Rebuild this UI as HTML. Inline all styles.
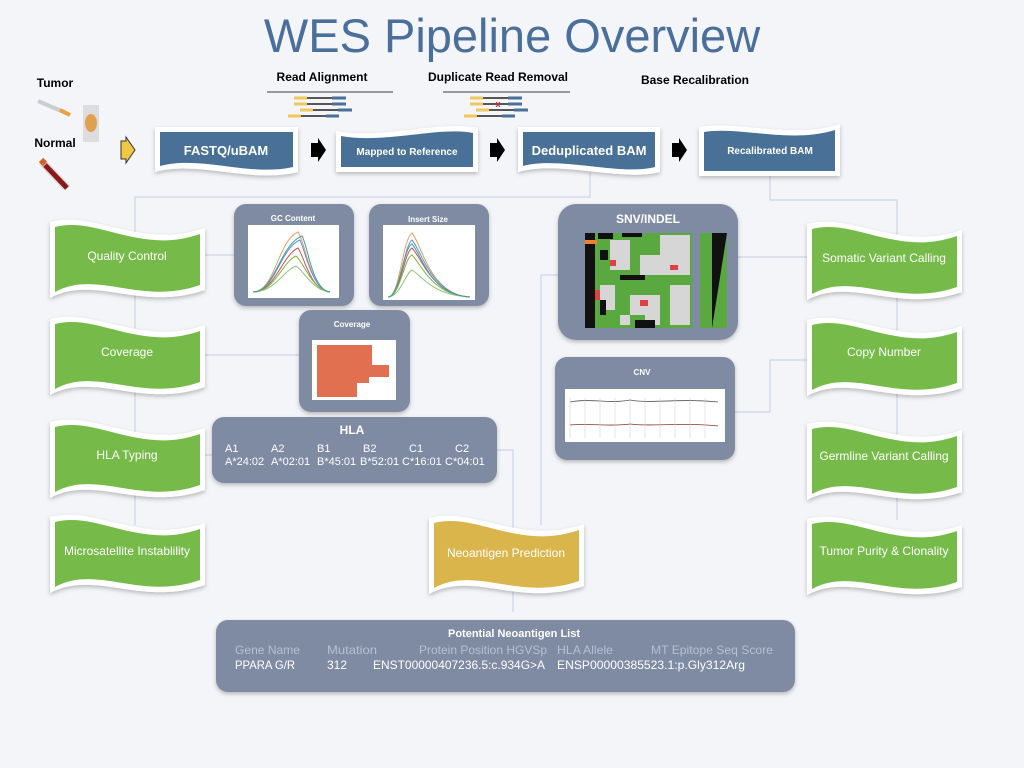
<!DOCTYPE html>
<html><head><meta charset="utf-8"><style>
html,body{margin:0;padding:0;background:#f4f5f9;}
svg{display:block;font-family:"Liberation Sans",sans-serif;}
</style></head><body>
<svg width="1024" height="768" viewBox="0 0 1024 768" xmlns="http://www.w3.org/2000/svg">
<defs>
<filter id="sh" x="-10%" y="-10%" width="120%" height="130%"><feDropShadow dx="0" dy="2" stdDeviation="2" flood-color="#000" flood-opacity="0.25"/></filter>
<path id="flag" d="M0,4 C45,-8 90,32 155,10 L155,72 C90,94 45,56 0,80 Z"/>
<path id="flagi" d="M5,9 C47,-2 90,37 150,16 L150,67 C90,88 47,51 5,74 Z"/>
</defs>
<rect width="1024" height="768" fill="#f4f5f9"/>
<text x="512" y="52" text-anchor="middle" font-size="47" fill="#4a6f9a">WES Pipeline Overview</text>

<g stroke="#c5cde6" stroke-width="1" fill="none">
<path d="M590,172 V197 H135 V525"/>
<path d="M770,176 V200 H897 V520"/>
<path d="M205,255 H234"/>
<path d="M205,355 H299"/>
<path d="M205,455 H212"/>
<path d="M497,450 H513 V612"/>
<path d="M558,275 H541 V525"/>
<path d="M738,257 H807"/>
<path d="M735,412 H770 V360 H807"/>
</g>

<text x="55" y="87" text-anchor="middle" font-size="12" font-weight="bold">Tumor</text>
<text x="55" y="147" text-anchor="middle" font-size="12" font-weight="bold">Normal</text>
<line x1="38" y1="101" x2="66" y2="113" stroke="#ccc" stroke-width="4"/>
<line x1="60" y1="110" x2="70" y2="115" stroke="#e8a040" stroke-width="4"/>
<rect x="83" y="105" width="16" height="37" fill="#ddd"/>
<ellipse cx="91" cy="123" rx="6" ry="9" fill="#e0a050"/>
<line x1="42" y1="162" x2="67" y2="188" stroke="#ddd" stroke-width="8"/>
<line x1="45" y1="165" x2="67" y2="188" stroke="#8a1a1a" stroke-width="5"/>
<line x1="41" y1="160" x2="45" y2="164" stroke="#d06030" stroke-width="6"/>
<path d="M121,141 H126 V137 L135,150 L126,163 V159 H121 Z" fill="#f2c744" stroke="#333" stroke-width="1"/>

<line x1="267" y1="92" x2="393" y2="92" stroke="#999" stroke-width="2"/>
<line x1="443" y1="92" x2="570" y2="92" stroke="#999" stroke-width="2"/>
<g stroke-width="3">
<line x1="294" y1="98" x2="346" y2="98" stroke="#222" stroke-width="1.5"/><line x1="294" y1="98" x2="307" y2="98" stroke="#f2c75c"/><line x1="332" y1="98" x2="346" y2="98" stroke="#4a6f9a"/>
<line x1="294" y1="104" x2="346" y2="104" stroke="#222" stroke-width="1.5"/><line x1="294" y1="104" x2="307" y2="104" stroke="#f2c75c"/><line x1="332" y1="104" x2="346" y2="104" stroke="#4a6f9a"/>
<line x1="300" y1="110" x2="352" y2="110" stroke="#222" stroke-width="1.5"/><line x1="300" y1="110" x2="313" y2="110" stroke="#f2c75c"/><line x1="338" y1="110" x2="352" y2="110" stroke="#4a6f9a"/>
<line x1="288" y1="116" x2="339" y2="116" stroke="#222" stroke-width="1.5"/><line x1="288" y1="116" x2="301" y2="116" stroke="#f2c75c"/><line x1="326" y1="116" x2="339" y2="116" stroke="#4a6f9a"/>
<line x1="470" y1="98" x2="522" y2="98" stroke="#222" stroke-width="1.5"/><line x1="470" y1="98" x2="483" y2="98" stroke="#f2c75c"/><line x1="508" y1="98" x2="522" y2="98" stroke="#4a6f9a"/>
<line x1="470" y1="104" x2="522" y2="104" stroke="#222" stroke-width="1.5"/><line x1="470" y1="104" x2="483" y2="104" stroke="#f2c75c"/><line x1="508" y1="104" x2="522" y2="104" stroke="#4a6f9a"/>
<line x1="476" y1="110" x2="528" y2="110" stroke="#222" stroke-width="1.5"/><line x1="476" y1="110" x2="489" y2="110" stroke="#f2c75c"/><line x1="514" y1="110" x2="528" y2="110" stroke="#4a6f9a"/>
<line x1="464" y1="116" x2="515" y2="116" stroke="#222" stroke-width="1.5"/><line x1="464" y1="116" x2="477" y2="116" stroke="#f2c75c"/><line x1="502" y1="116" x2="515" y2="116" stroke="#4a6f9a"/>
</g>
<text x="498" y="107" text-anchor="middle" font-size="9" fill="#d03030" font-weight="bold">x</text>
<g font-size="12" font-weight="bold" text-anchor="middle">
<text x="322" y="81">Read Alignment</text>
<text x="498" y="81">Duplicate Read Removal</text>
<text x="695" y="84">Base Recalibration</text>
</g>

<g filter="url(#sh)">
<path d="M155,127 H298 V172 C250,184 200,160 155,172 Z" fill="#fff"/>
<path d="M160,132 H293 V167 C250,177 200,155 160,166 Z" fill="#4a6f96"/>
<path d="M336,131 C380,140 440,120 478,128 V172 H336 Z" fill="#fff"/>
<path d="M341,136 C385,144 440,126 473,133 V167 H341 Z" fill="#4a6f96"/>
<path d="M518,127 H660 V172 C620,182 560,160 518,172 Z" fill="#fff"/>
<path d="M523,132 H655 V167 C620,176 560,156 523,166 Z" fill="#4a6f96"/>
<path d="M699,127 C740,120 790,140 840,124 V176 H699 Z" fill="#fff"/>
<path d="M704,132 C740,126 790,144 835,130 V171 H704 Z" fill="#4a6f96"/>
</g>
<g fill="#fff" font-weight="bold" text-anchor="middle">
<text x="226" y="155" font-size="13">FASTQ/uBAM</text>
<text x="407" y="155" font-size="10">Mapped to Reference</text>
<text x="589" y="155" font-size="13">Deduplicated BAM</text>
<text x="770" y="154" font-size="10">Recalibrated BAM</text>
</g>
<g fill="#000">
<path d="M311,143 H318 V138 L326,150 L318,162 V157 H311 Z"/>
<path d="M490,143 H497 V138 L505,150 L497,162 V157 H490 Z"/>
<path d="M672,143 H679 V138 L687,150 L679,162 V157 H672 Z"/>
</g>

<g filter="url(#sh)">
<g transform="translate(50,218)"><use href="#flag" fill="#fff"/><use href="#flagi" fill="#76bb4a"/></g>
<g transform="translate(50,315)"><use href="#flag" fill="#fff"/><use href="#flagi" fill="#76bb4a"/></g>
<g transform="translate(50,418)"><use href="#flag" fill="#fff"/><use href="#flagi" fill="#76bb4a"/></g>
<g transform="translate(50,513)"><use href="#flag" fill="#fff"/><use href="#flagi" fill="#76bb4a"/></g>
<g transform="translate(807,220)"><use href="#flag" fill="#fff"/><use href="#flagi" fill="#76bb4a"/></g>
<g transform="translate(807,316)"><use href="#flag" fill="#fff"/><use href="#flagi" fill="#76bb4a"/></g>
<g transform="translate(807,420)"><use href="#flag" fill="#fff"/><use href="#flagi" fill="#76bb4a"/></g>
<g transform="translate(807,515)"><use href="#flag" fill="#fff"/><use href="#flagi" fill="#76bb4a"/></g>
<g transform="translate(429,514)"><use href="#flag" fill="#fff"/><use href="#flagi" fill="#dab54b"/></g>
</g>
<g fill="#fff" font-size="12" text-anchor="middle">
<text x="127" y="260">Quality Control</text>
<text x="127" y="356">Coverage</text>
<text x="127" y="459">HLA Typing</text>
<text x="127" y="555">Microsatellite Instablility</text>
<text x="884" y="262">Somatic Variant Calling</text>
<text x="884" y="356">Copy Number</text>
<text x="884" y="460">Germline Variant Calling</text>
<text x="884" y="555">Tumor Purity &amp; Clonality</text>
<text x="506" y="557">Neoantigen Prediction</text>
</g>

<g fill="#7f8aa3" filter="url(#sh)">
<rect x="234" y="204" width="120" height="102" rx="12"/>
<rect x="369" y="204" width="120" height="102" rx="12"/>
<rect x="299" y="310" width="111" height="102" rx="12"/>
<rect x="212" y="417" width="285" height="66" rx="12"/>
<rect x="558" y="204" width="180" height="136" rx="18"/>
<rect x="555" y="357" width="180" height="103" rx="12"/>
<rect x="216" y="620" width="579" height="72" rx="12"/>
</g>
<g fill="#fff" font-weight="bold" text-anchor="middle">
<text x="293" y="221" font-size="8">GC Content</text>
<text x="428" y="222" font-size="8">Insert Size</text>
<text x="352" y="327" font-size="8">Coverage</text>
<text x="352" y="434" font-size="12">HLA</text>
<text x="648" y="223" font-size="12">SNV/INDEL</text>
<text x="642" y="375" font-size="8">CNV</text>
<text x="514" y="637" font-size="11">Potential Neoantigen List</text>
</g>
<rect x="248" y="225" width="91" height="73" fill="#fff"/>
<rect x="383" y="225" width="92" height="75" fill="#fff"/>
<rect x="312" y="340" width="84" height="60" fill="#fff"/>
<rect x="565" y="389" width="160" height="53" fill="#fff"/>
<g fill="none" stroke-width="1">
<path d="M253,292 C275,292 278,240 298,232 C305,240 310,290 330,292" stroke="#e4a060"/>
<path d="M253,292 C275,292 280,248 300,240 C305,250 312,290 330,292" stroke="#5a8fd8"/>
<path d="M253,292 C275,292 282,255 298,248 C305,258 310,290 330,292" stroke="#d05050"/>
<path d="M253,292 C275,292 282,262 296,256 C305,264 312,290 330,292" stroke="#80b040"/>
<path d="M253,292 C275,292 284,270 296,266 C305,272 312,290 330,292" stroke="#90c080"/>
<path d="M253,292 C275,292 280,244 302,236 C308,246 312,290 330,292" stroke="#40a0a0"/>
<path d="M388,297 C400,297 402,240 412,233 C422,245 430,295 470,297" stroke="#e4a060"/>
<path d="M388,297 C400,297 404,245 412,240 C422,252 432,295 470,297" stroke="#5a8fd8"/>
<path d="M388,297 C400,297 404,252 412,248 C422,258 432,295 470,297" stroke="#d05050"/>
<path d="M388,297 C400,297 404,258 412,255 C422,265 432,295 470,297" stroke="#80b040"/>
<path d="M388,297 C400,297 406,272 412,270 C422,276 432,295 470,297" stroke="#90c080"/>
<path d="M388,297 C400,297 403,248 412,244 C422,255 430,295 470,297" stroke="#40a0a0"/>
</g>
<g fill="#e07050">
<rect x="317" y="345" width="55" height="20"/>
<rect x="317" y="365" width="72" height="12"/>
<rect x="317" y="377" width="52" height="6"/>
<rect x="317" y="383" width="40" height="14"/>
</g>
<g stroke="#555" stroke-width="0.8" fill="none">
<path d="M570,402 C590,398 610,404 630,400 C650,404 680,398 718,402"/>
<path d="M570,425 C590,423 610,427 630,424 C650,427 680,422 718,426" stroke="#833"/>
<path d="M570,398 V438 M585,398 V438 M600,398 V438 M615,398 V438 M630,398 V438 M645,398 V438 M660,398 V438 M675,398 V438 M690,398 V438 M705,398 V438" stroke="#ccc" stroke-width="0.5"/>
</g>
<rect x="585" y="233" width="107" height="95" fill="#5aa840"/>
<g fill="#d6d6d6">
<rect x="610" y="240" width="20" height="30"/><rect x="640" y="255" width="25" height="20"/><rect x="660" y="235" width="30" height="40"/>
<rect x="600" y="285" width="15" height="25"/><rect x="630" y="295" width="30" height="20"/><rect x="670" y="285" width="20" height="40"/>
<rect x="645" y="310" width="15" height="15"/><rect x="620" y="315" width="10" height="10"/>
</g>
<g fill="#111">
<rect x="585" y="233" width="10" height="95"/><rect x="598" y="233" width="15" height="6"/><rect x="622" y="233" width="20" height="4"/>
<rect x="600" y="250" width="8" height="10"/><rect x="620" y="275" width="25" height="5"/><rect x="600" y="300" width="6" height="15"/><rect x="635" y="320" width="20" height="8"/>
</g>
<g fill="#e04040"><rect x="610" y="260" width="6" height="6"/><rect x="640" y="300" width="8" height="6"/><rect x="670" y="265" width="8" height="5"/><rect x="595" y="290" width="5" height="10"/></g>
<rect x="585" y="240" width="12" height="4" fill="#f08030"/>
<rect x="700" y="233" width="27" height="95" fill="#5aa840"/>
<path d="M712,233 H727 L712,328 Z" fill="#111"/>
<g fill="#fff" font-size="11">
<text x="225" y="452">A1</text><text x="271" y="452">A2</text><text x="317" y="452">B1</text><text x="363" y="452">B2</text><text x="409" y="452">C1</text><text x="455" y="452">C2</text>
<text x="225" y="465">A*24:02</text><text x="271" y="465">A*02:01</text><text x="317" y="465">B*45:01</text><text x="360" y="465">B*52:01</text><text x="402" y="465">C*16:01</text><text x="445" y="465">C*04:01</text>
</g>
<g font-size="12">
<g fill="#b8c0d2">
<text x="235" y="654" textLength="65" lengthAdjust="spacingAndGlyphs">Gene Name</text>
<text x="327" y="654" textLength="50" lengthAdjust="spacingAndGlyphs">Mutation</text>
<text x="419" y="654" textLength="128" lengthAdjust="spacingAndGlyphs">Protein Position HGVSp</text>
<text x="557" y="654" textLength="56" lengthAdjust="spacingAndGlyphs">HLA Allele</text>
<text x="651" y="654" textLength="122" lengthAdjust="spacingAndGlyphs">MT Epitope Seq Score</text>
</g>
<g fill="#fff">
<text x="235" y="669" textLength="60" lengthAdjust="spacingAndGlyphs">PPARA  G/R</text>
<text x="327" y="669" textLength="20" lengthAdjust="spacingAndGlyphs">312</text>
<text x="373" y="669" textLength="172" lengthAdjust="spacingAndGlyphs">ENST00000407236.5:c.934G&gt;A</text>
<text x="557" y="669" textLength="188" lengthAdjust="spacingAndGlyphs">ENSP00000385523.1:p.Gly312Arg</text>
</g>
</g>
</svg>
</body></html>
